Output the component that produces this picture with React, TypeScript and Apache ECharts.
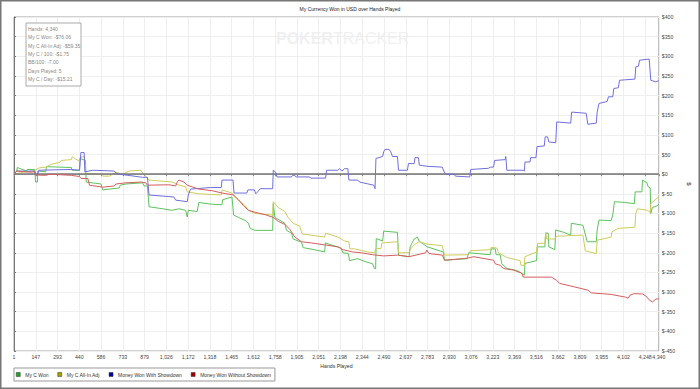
import React, { useEffect, useRef } from 'react';
import * as echarts from 'echarts';

const FONT = 'Liberation Sans, Arial, sans-serif';

const chartTitle = 'My Currency Won in USD over Hands Played';
const seriesNames = ['My C Won', 'My C All-In Adj', 'Money Won With Showdown', 'Money Won Without Showdown'];
const lineColors = ['#5cc25c', '#cfcb5c', '#6f6fdc', '#d45e5e'];
const legendColors = ['#22a022', '#a0a000', '#0000a0', '#a00000'];

const xTickLabels = ['1', '147', '293', '440', '586', '733', '879', '1,026', '1,172', '1,318', '1,465', '1,612', '1,758', '1,905', '2,051', '2,198', '2,344', '2,490', '2,637', '2,783', '2,930', '3,076', '3,223', '3,369', '3,516', '3,662', '3,809', '3,955', '4,102', '4,248'];
const xMaxLabel = '4,340';
const handsMax = 4340;
const xStep = 4248 / 29;

const infoLines = ['Hands: 4,340', 'My C Won: -$76.06', 'My C All-In Adj: -$59.35', 'My C / 100: -$1.75', 'BB/100: -7.00', 'Days Played: 5', 'My C / Day: -$15.21'];

const myCWon: [number, number][] = [[1,0],[18,8],[22,17],[85,8],[89,12],[140,12],[145,-20],[158,-20],[160,8],[214,6],[218,19],[386,17],[390,10],[441,10],[443,40],[481,35],[486,-20],[586,-25],[597,-40],[709,-35],[715,-28],[753,-25],[865,-22],[875,-30],[898,-30],[909,-83],[1000,-88],[1065,-92],[1110,-88],[1155,-92],[1166,-109],[1173,-92],[1233,-95],[1244,-72],[1320,-76],[1400,-78],[1404,-65],[1467,-58],[1478,-104],[1511,-110],[1556,-118],[1578,-125],[1589,-138],[1623,-143],[1741,-143],[1745,-75],[1756,-110],[1823,-125],[1834,-143],[1868,-150],[1879,-165],[1935,-173],[1946,-187],[2020,-192],[2091,-198],[2095,-175],[2202,-188],[2213,-200],[2251,-202],[2258,-220],[2314,-215],[2360,-222],[2414,-228],[2425,-240],[2434,-240],[2438,-164],[2481,-170],[2488,-145],[2581,-148],[2588,-206],[2659,-210],[2666,-185],[2693,-165],[2715,-160],[2726,-170],[2782,-185],[2889,-198],[2898,-219],[3049,-215],[3060,-200],[3205,-205],[3212,-190],[3239,-190],[3245,-205],[3272,-205],[3283,-228],[3317,-240],[3384,-245],[3417,-252],[3435,-257],[3439,-227],[3517,-220],[3522,-185],[3573,-185],[3578,-150],[3595,-150],[3600,-185],[3640,-192],[3646,-142],[3700,-148],[3747,-155],[3751,-125],[3829,-130],[3858,-172],[3919,-172],[3925,-142],[3937,-117],[4019,-118],[4030,-104],[4041,-70],[4110,-72],[4175,-75],[4181,-45],[4226,-45],[4230,-15],[4260,-22],[4268,-32],[4282,-35],[4286,-100],[4297,-85],[4331,-80],[4340,-76]];

const myCAllInAdj: [number, number][] = [[1,0],[62,5],[129,8],[169,16],[214,18],[252,25],[307,30],[318,35],[386,37],[392,44],[408,40],[441,33],[452,44],[475,44],[481,2],[586,0],[597,-5],[642,-5],[686,5],[731,0],[776,8],[854,10],[865,3],[887,-5],[909,-15],[1065,-20],[1110,-28],[1155,-32],[1166,-45],[1244,-50],[1395,-53],[1400,-40],[1467,-48],[1489,-60],[1522,-70],[1556,-80],[1578,-92],[1623,-100],[1741,-104],[1745,-70],[1779,-85],[1823,-95],[1845,-110],[1879,-125],[1923,-132],[1939,-152],[2091,-160],[2097,-150],[2180,-160],[2225,-170],[2254,-172],[2260,-190],[2291,-190],[2381,-198],[2425,-200],[2438,-189],[2470,-189],[2476,-175],[2581,-172],[2588,-200],[2659,-200],[2670,-190],[2693,-180],[2726,-172],[2782,-178],[2882,-182],[2898,-206],[3060,-205],[3071,-195],[3205,-192],[3212,-186],[3250,-188],[3261,-200],[3317,-212],[3406,-220],[3412,-232],[3435,-232],[3439,-210],[3517,-198],[3524,-176],[3573,-176],[3578,-149],[3586,-165],[3640,-165],[3651,-158],[3829,-155],[3845,-195],[3919,-202],[3925,-168],[4019,-160],[4024,-147],[4064,-138],[4179,-135],[4185,-100],[4196,-88],[4264,-92],[4282,-97],[4286,-75],[4331,-60],[4340,-59]];

const wonWithShowdown: [number, number][] = [[1,0],[18,8],[140,8],[145,-2],[158,-2],[167,10],[386,12],[441,10],[446,32],[450,55],[472,55],[477,6],[530,10],[675,8],[686,3],[709,0],[787,-4],[865,-8],[898,-8],[909,-53],[1076,-58],[1088,-66],[1166,-70],[1173,-53],[1188,-38],[1322,-34],[1395,-34],[1400,-15],[1474,-15],[1481,-48],[1567,-48],[1574,-40],[1618,-40],[1627,-50],[1640,-45],[1656,-37],[1741,-37],[1745,10],[1761,5],[1770,-7],[1868,-7],[1875,-3],[1890,-3],[1897,-7],[1990,-7],[1997,-10],[2097,-10],[2104,10],[2180,10],[2191,14],[2207,8],[2225,14],[2247,14],[2254,-15],[2314,-15],[2325,-20],[2421,-28],[2430,-37],[2436,40],[2481,45],[2488,57],[2497,63],[2525,63],[2536,57],[2547,45],[2581,45],[2588,10],[2648,10],[2655,27],[2693,27],[2699,42],[2722,42],[2728,23],[2782,20],[2882,18],[2893,8],[2904,0],[2960,0],[2971,-5],[3067,-7],[3074,12],[3194,15],[3205,18],[3228,18],[3234,35],[3306,37],[3310,45],[3317,10],[3428,10],[3435,8],[3439,31],[3473,31],[3477,42],[3513,42],[3520,70],[3569,72],[3575,95],[3591,95],[3600,82],[3646,80],[3653,133],[3747,130],[3753,158],[3851,155],[3862,127],[3919,130],[3925,158],[3937,180],[3992,185],[4001,197],[4030,197],[4037,218],[4068,220],[4075,239],[4179,242],[4185,273],[4203,275],[4210,290],[4275,293],[4286,239],[4320,235],[4340,238]];

const wonWithoutShowdown: [number, number][] = [[1,0],[18,8],[107,5],[140,6],[147,-2],[214,-3],[241,0],[386,-3],[441,-6],[452,-11],[497,-11],[508,-28],[597,-33],[675,-30],[686,-25],[753,-22],[854,-20],[887,-22],[898,-28],[1043,-27],[1088,-30],[1099,-20],[1110,-15],[1144,-20],[1166,-28],[1244,-38],[1333,-42],[1400,-48],[1478,-53],[1511,-65],[1544,-80],[1578,-92],[1623,-97],[1690,-103],[1745,-110],[1779,-120],[1823,-128],[1856,-140],[1890,-160],[1935,-172],[2002,-175],[2091,-180],[2180,-185],[2213,-192],[2280,-198],[2336,-200],[2414,-205],[2488,-208],[2581,-206],[2659,-210],[2771,-200],[2778,-193],[2793,-202],[2882,-206],[2898,-219],[3049,-214],[3094,-210],[3228,-219],[3239,-228],[3272,-232],[3295,-240],[3361,-244],[3417,-252],[3428,-262],[3517,-262],[3617,-262],[3651,-270],[3673,-278],[3773,-287],[3862,-295],[3885,-302],[4019,-306],[4117,-313],[4133,-316],[4146,-308],[4175,-304],[4230,-305],[4253,-310],[4275,-320],[4297,-325],[4320,-318],[4340,-317]];

const seriesData = [myCWon, myCAllInAdj, wonWithShowdown, wonWithoutShowdown];

export default function App() {
  const ref = useRef<HTMLDivElement>(null);
  useEffect(() => {
    if (!ref.current) return;
    const chart = echarts.init(ref.current, undefined, { renderer: 'svg' });
    const infoTexts = infoLines.map((t, i) => ({
      type: 'text',
      x: 28,
      y: 29 + i * 8.3,
      z: 101,
      style: { text: t, fontSize: 5, fontFamily: FONT, fill: '#888', verticalAlign: 'middle' },
    }));
    chart.setOption({
      animation: false,
      backgroundColor: '#fff',
      title: {
        text: chartTitle,
        left: 'center',
        top: 6.5,
        padding: 0,
        textStyle: { fontSize: 5, fontWeight: 'normal', color: '#222', fontFamily: FONT },
      },
      grid: {
        left: 14, top: 17, right: 37, bottom: 38,
        show: true, borderColor: '#a0a0a0', borderWidth: 1, backgroundColor: 'transparent',
      },
      legend: {
        left: 14, top: 368,
        padding: [4, 4, 4, 2],
        itemWidth: 4, itemHeight: 4, itemGap: 9,
        borderColor: '#999', borderWidth: 1, backgroundColor: '#fff',
        icon: 'rect',
        textStyle: { fontSize: 5, color: '#333', fontFamily: FONT },
        data: seriesNames.map((n, i) => ({
          name: n,
          itemStyle: { color: legendColors[i], borderColor: '#333', borderWidth: 0.5 },
        })),
      },
      xAxis: {
        type: 'value',
        min: 0, max: handsMax, interval: xStep,
        name: 'Hands Played', nameLocation: 'middle', nameGap: 9,
        nameTextStyle: { fontSize: 5.2, color: '#333', fontFamily: FONT },
        axisLine: { show: true, lineStyle: { color: '#bbb', width: 1 } },
        axisTick: { show: true, length: 2, lineStyle: { color: '#888' } },
        axisLabel: {
          fontSize: 5.2, color: '#444', fontFamily: FONT, margin: 3,
          formatter: (v: number) => (v >= handsMax - 1 ? xMaxLabel : xTickLabels[Math.round(v / xStep)] ?? ''),
        },
        splitLine: { show: true, lineStyle: { color: '#eeeeee', width: 1 } },
      },
      yAxis: {
        type: 'value', position: 'right',
        min: -450, max: 400, interval: 50,
        name: '$', nameLocation: 'middle', nameGap: 22, nameRotate: -90,
        nameTextStyle: { fontSize: 6, color: '#333', fontFamily: FONT },
        axisLine: { show: true, lineStyle: { color: '#777', width: 1 } },
        axisTick: { show: true, length: 2, lineStyle: { color: '#777' } },
        axisLabel: {
          fontSize: 5.2, color: '#444', fontFamily: FONT, margin: 3,
          formatter: (v: number) => '$' + v,
        },
        splitLine: { show: true, lineStyle: { color: '#eeeeee', width: 1 } },
      },
      series: seriesData.map((d, i) => ({
        name: seriesNames[i],
        type: 'line',
        data: d,
        showSymbol: false,
        symbol: 'none',
        color: lineColors[i],
        lineStyle: { color: lineColors[i], width: 1 },
        z: 3 + i,
        markLine: i === 0 ? {
          silent: true, symbol: 'none', label: { show: false },
          lineStyle: { color: '#777', width: 1.5, type: 'solid' },
          data: [{ yAxis: 0 }],
        } : undefined,
      })),
      graphic: [
        {
          type: 'text', x: 276, y: 38, z: -1, silent: true,
          style: {
            text: '{a|POKER}{b|TRACKER}', verticalAlign: 'middle',
            rich: {
              a: { fontSize: 16, fontWeight: 'bold', fill: '#f0f0f0', fontFamily: FONT },
              b: { fontSize: 16, fill: '#f0f0f0', fontFamily: FONT },
            },
          },
        },
        {
          type: 'rect', z: 100,
          shape: { x: 26, y: 23, width: 55, height: 63 },
          style: { fill: '#fff', stroke: '#aaa', lineWidth: 1 },
        },
        ...infoTexts,
        {
          type: 'rect', z: 100, silent: true,
          shape: { x: 0.75, y: 0.75, width: 698.5, height: 387.5 },
          style: { fill: 'none', stroke: '#777', lineWidth: 1.5 },
        },
      ],
    });
    return () => chart.dispose();
  }, []);
  return <div ref={ref} style={{ position: 'fixed', left: 0, top: 0, width: 700, height: 389 }} />;
}
